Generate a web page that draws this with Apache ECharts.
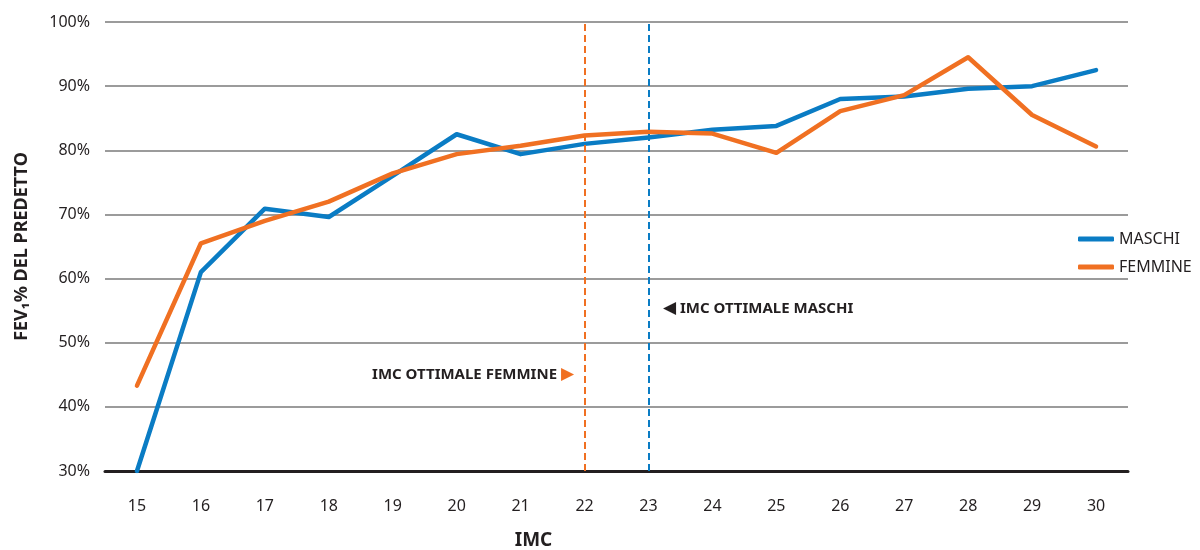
<!DOCTYPE html>
<html>
<head>
<meta charset="utf-8">
<script src="https://cdn.jsdelivr.net/npm/echarts@6/dist/echarts.min.js"></script>
<style>
  html, body { margin: 0; padding: 0; background: #fff; }
  #chart { width: 1200px; height: 550px; }
</style>
</head>
<body>
<div id="chart"></div>
<script>
// IMC categories (x axis)
const categories = ['15','16','17','18','19','20','21','22','23','24','25','26','27','28','29','30'];
// FEV1 % of predicted, by sex
const maschi  = [30.0, 61.0, 70.9, 69.6, 76.0, 82.5, 79.4, 81.0, 82.0, 83.2, 83.8, 88.0, 88.4, 89.6, 90.0, 92.5];
const femmine = [43.3, 65.5, 69.0, 72.0, 76.4, 79.4, 80.7, 82.3, 82.9, 82.6, 79.6, 86.1, 88.6, 94.5, 85.5, 80.6];
// optimal IMC markers
const ottimaleMaschi = '23';
const ottimaleFemmine = '22';
const yTicks = { min: 30, max: 100, interval: 10 };

const BLUE = '#0a7cc4';
const ORANGE = '#f07022';
const TEXT = '#231f20';
const SANS = "'Noto Sans', sans-serif";

const chart = echarts.init(document.getElementById('chart'));
chart.setOption({
  animation: false,
  color: [BLUE, ORANGE],
  grid: { left: 105, right: 72, top: 22, height: 449, containLabel: false, outerBoundsMode: 'none' },
  legend: {
    orient: 'vertical',
    left: 1073,
    top: 226,
    itemWidth: 36,
    itemHeight: 5,
    itemGap: 12,
    icon: 'roundRect',
    textStyle: { fontFamily: SANS, fontSize: 16, color: TEXT },
    data: ['MASCHI', 'FEMMINE']
  },
  xAxis: {
    type: 'category',
    data: categories,
    boundaryGap: true,
    name: 'IMC',
    nameLocation: 'middle',
    nameGap: 60,
    nameTextStyle: { fontFamily: SANS, fontWeight: 'bold', fontSize: 19, color: TEXT, padding: [0, 166, 0, 0] },
    axisLine: { lineStyle: { color: TEXT, width: 3 } },
    axisTick: { alignWithLabel: true, length: 16, lineStyle: { color: '#8a8a8a', width: 1 } },
    axisLabel: { margin: 27, fontFamily: SANS, fontSize: 16, color: TEXT },
    splitLine: { show: false }
  },
  yAxis: {
    type: 'value',
    min: yTicks.min,
    max: yTicks.max,
    interval: yTicks.interval,
    name: 'FEV\u2081% DEL PREDETTO',
    nameLocation: 'middle',
    nameRotate: 90,
    nameGap: 74,
    nameTextStyle: { fontFamily: SANS, fontWeight: 'bold', fontSize: 18, color: TEXT },
    axisLine: { show: false },
    axisTick: { show: false },
    axisLabel: { margin: 15, fontFamily: SANS, fontSize: 16, color: TEXT, formatter: '{value}%' },
    splitLine: { lineStyle: { color: '#7a7a7a', width: 1.5 } }
  },
  series: [
    {
      name: 'MASCHI',
      type: 'line',
      data: maschi,
      symbol: 'none',
      lineStyle: { width: 4.5, color: BLUE, cap: 'round', join: 'round' },
      z: 3,
      markLine: {
        silent: true,
        symbol: 'none',
        label: { show: false },
        lineStyle: { color: BLUE, type: [7, 4], width: 2 },
        data: [{ xAxis: ottimaleMaschi }]
      }
    },
    {
      name: 'FEMMINE',
      type: 'line',
      data: femmine,
      symbol: 'none',
      lineStyle: { width: 4.5, color: ORANGE, cap: 'round', join: 'round' },
      z: 4,
      markLine: {
        silent: true,
        symbol: 'none',
        label: { show: false },
        lineStyle: { color: ORANGE, type: [7, 4], width: 2 },
        data: [{ xAxis: ottimaleFemmine }]
      }
    }
  ],
  graphic: [
    {
      type: 'text',
      left: 663,
      top: 300,
      style: {
        text: '{tri|\u25C0} IMC OTTIMALE MASCHI',
        font: "bold 15px 'Noto Sans', sans-serif",
        fill: TEXT,
        rich: { tri: { fill: TEXT, fontSize: 17, fontFamily: "'DejaVu Sans'" } }
      }
    },
    {
      type: 'text',
      right: 1200 - 574,
      top: 366,
      style: {
        text: 'IMC OTTIMALE FEMMINE {tri|\u25B6}',
        font: "bold 15px 'Noto Sans', sans-serif",
        fill: TEXT,
        rich: { tri: { fill: ORANGE, fontSize: 17, fontFamily: "'DejaVu Sans'" } }
      }
    }
  ]
});
</script>
</body>
</html>
